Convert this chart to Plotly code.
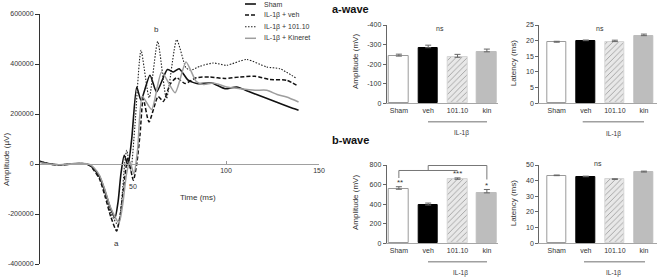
import plotly.graph_objects as go

W, H = 660, 279
FONT = "Liberation Sans, Arial, sans-serif"

# ---------------- ERG traces (time ms, amplitude uV) ----------------
t_sham = [0, 3, 6, 10, 14, 18, 22, 25, 27, 29, 32, 35, 38, 40.3, 42, 43.5, 45.3, 47.3, 49.3, 52, 54.3, 59.1, 62.7, 68.5, 71.7, 74.8, 79.7, 85, 92.3, 99.5, 105.7, 112.9, 120, 127, 134, 139]
a_sham = [10000, 4000, 0, -3000, -2000, 1000, 2000, 0, -6000, -20000, -50000, -110000, -180000, -215000, -150000, -40000, 35000, -5000, 100000, 308000, 255000, 355000, 288000, 378000, 368000, 381000, 335000, 321000, 324000, 301000, 308000, 288000, 268000, 248000, 228000, 215000]

t_veh = [0, 3, 6, 10, 14, 18, 22, 25, 27, 29, 32, 35, 38, 41.2, 43.2, 45.2, 47.2, 50.2, 52, 53.8, 55.5, 58.6, 63.5, 66.3, 70, 73.5, 78, 84, 91.4, 99.5, 107.5, 115.6, 123.6, 132.6, 138.9]
a_veh = [8000, 3000, -2000, -4000, -2000, 0, 2000, 0, -8000, -25000, -60000, -130000, -210000, -268000, -200000, -80000, 25000, -65000, 0, 120000, 262000, 168000, 270000, 250000, 320000, 345000, 322000, 345000, 348000, 342000, 348000, 351000, 338000, 335000, 311000]

t_101 = [0, 3, 6, 10, 14, 18, 22, 25, 27, 29, 32, 35, 38, 42, 44.2, 45.5, 46.6, 48.8, 51, 54.3, 58.7, 63.3, 68, 73.5, 78.5, 81, 86, 93.2, 100.4, 111.1, 121.9, 129, 138]
a_101 = [12000, 5000, 0, -4000, -1000, 2000, 1000, -1000, -8000, -22000, -55000, -120000, -195000, -245000, -120000, 0, 55000, -25000, 150000, 455000, 265000, 490000, 262000, 497000, 385000, 375000, 391000, 404000, 395000, 418000, 388000, 381000, 342000]

t_kin = [0, 3, 6, 10, 14, 18, 22, 25, 27, 29, 32, 35, 38, 42.5, 44.5, 46.5, 48.3, 50.5, 52.5, 55, 60, 65.4, 72.6, 78.5, 84, 88, 93.2, 100.4, 107.5, 115.6, 121.9, 127.5, 132.6, 139]
a_kin = [6000, 2000, -1000, -3000, -1000, 2000, 3000, 1000, -3000, -15000, -45000, -105000, -175000, -235000, -160000, -40000, 10000, -40000, 60000, 270000, 218000, 368000, 285000, 408000, 330000, 318000, 324000, 308000, 301000, 295000, 295000, 278000, 268000, 248000]

series_names = ["Sham", "IL-1β + veh", "IL-1β + 101.10", "IL-1β + Kineret"]
erg_ticks_y = [-400000, -200000, 0, 200000, 400000, 600000]
erg_ticks_x = [100, 150]

# ---------------- bar data ----------------
groups = ["Sham", "veh", "101.10", "kin"]
a_amp = [-241, -284, -235, -263]
a_amp_err = [10, 13, 15, 14]
a_lat = [19.5, 20.0, 19.7, 21.6]
a_lat_err = [0.3, 0.2, 0.45, 0.5]
b_amp = [552, 391, 654, 515]
b_amp_err = [26, 20, 14, 35]
b_lat = [43.2, 42.5, 40.8, 45.5]
b_lat_err = [0.4, 0.4, 0.4, 0.6]

a_amp_ticks = [0, -100, -200, -300, -400]
a_lat_ticks = [0, 5, 10, 15, 20, 25]
b_amp_ticks = [0, 200, 400, 600, 800]
b_lat_ticks = [0, 10, 20, 30, 40, 50]


def px(x):
    return x / W


def py(y):
    return 1 - y / H


styles = [
    dict(color="#111111", width=1.6, dash="solid"),
    dict(color="#111111", width=1.5, dash="4px,2px"),
    dict(color="#222222", width=1.1, dash="1.5px,1.5px"),
    dict(color="#9e9e9e", width=1.5, dash="solid"),
]

fig = go.Figure()
for (tt, aa), st, nm in zip([(t_sham, a_sham), (t_veh, a_veh), (t_101, a_101), (t_kin, a_kin)], styles, series_names):
    fig.add_trace(go.Scatter(x=tt, y=aa, mode="lines", name=nm, showlegend=False,
                             line=dict(color=st["color"], width=st["width"], dash=st["dash"],
                                       shape="spline", smoothing=0.6),
                             xaxis="x", yaxis="y"))

bar_fill = ["#ffffff", "#000000", "#e8e8e8", "#bdbdbd"]
bar_line = ["#9a9a9a", "#000000", "#d6d6d6", "#bdbdbd"]
patt = dict(shape=["", "", "/", ""], fgcolor="#d8d8d8", size=4, solidity=0.2, fillmode="overlay")


def add_bars(vals, errs, ax, negative=False):
    zeros = [0] * len(errs)
    fig.add_trace(go.Bar(
        x=list(range(len(groups))), y=vals, width=0.67,
        marker=dict(color=bar_fill, line=dict(color=bar_line, width=1), pattern=patt),
        error_y=dict(type="data", symmetric=False,
                     array=zeros if negative else errs,
                     arrayminus=errs if negative else zeros,
                     color="#666666", thickness=1, width=3),
        xaxis="x" + ax, yaxis="y" + ax, showlegend=False))


add_bars(a_amp, a_amp_err, "2", negative=True)
add_bars(a_lat, a_lat_err, "3")
add_bars(b_amp, b_amp_err, "4")
add_bars(b_lat, b_lat_err, "5")

tickfont = dict(family=FONT, size=7, color="#333333")

# ERG axes
erg_ydom = [py(264), py(14)]
zero_pos = erg_ydom[0] + 0.4 * (erg_ydom[1] - erg_ydom[0])
layout = dict(
    template="none",
    width=W, height=H, margin=dict(l=0, r=0, t=0, b=0, pad=0), autosize=False,
    paper_bgcolor="white", plot_bgcolor="white", bargap=0,
    font=dict(family=FONT, size=7, color="#333333"),
    xaxis=dict(domain=[px(40), px(319)], range=[0, 150], anchor="free", position=zero_pos,
               tickvals=erg_ticks_x, ticktext=[str(v) for v in erg_ticks_x],
               ticks="inside", ticklen=3, tickcolor="#999999",
               showline=True, linecolor="#a0a0a0", linewidth=1, showgrid=False, zeroline=False,
               tickfont=tickfont),
    yaxis=dict(domain=erg_ydom, range=[-400000, 600000], anchor="x",
               tickvals=erg_ticks_y, ticktext=[str(v) for v in erg_ticks_y],
               ticks="outside", ticklen=4, tickcolor="#333333",
               showline=True, linecolor="#333333", linewidth=1, showgrid=False, zeroline=False,
               tickfont=tickfont),
)

top_dom = [py(103.3), py(25)]
bot_dom = [py(243.3), py(165)]
amp_xdom = [px(386.7), px(498.3)]
lat_xdom = [px(539.3), px(656.7)]


def bar_axes(n, xdom, ydom, xrange, yrange, ticks):
    layout["xaxis" + n] = dict(domain=xdom, range=xrange, anchor="y" + n,
                               tickvals=list(range(len(groups))), ticktext=groups,
                               ticks="", showline=True, linecolor="#a6a6a6", linewidth=1,
                               showgrid=False, zeroline=False, tickfont=tickfont)
    layout["yaxis" + n] = dict(domain=ydom, range=yrange, anchor="x" + n,
                               tickvals=ticks, ticktext=[str(v) for v in ticks],
                               ticks="outside", ticklen=3, tickcolor="#666666",
                               showline=True, linecolor="#666666", linewidth=1,
                               showgrid=False, zeroline=False, tickfont=tickfont)


bar_axes("2", amp_xdom, top_dom, [-0.415, 3.39], [0, -400], a_amp_ticks)
bar_axes("3", lat_xdom, top_dom, [-0.6, 3.44], [0, 25], a_lat_ticks)
bar_axes("4", amp_xdom, bot_dom, [-0.415, 3.39], [0, 800], b_amp_ticks)
bar_axes("5", lat_xdom, bot_dom, [-0.6, 3.44], [0, 50], b_lat_ticks)
fig.update_layout(**layout)

ann = []
shapes = []


def txt(x, y, s, size=7, bold=False, angle=0, xanchor="center", color="#333333"):
    ann.append(dict(x=px(x), y=py(y), xref="paper", yref="paper", text=("<b>%s</b>" % s) if bold else s,
                    showarrow=False, xanchor=xanchor, yanchor="middle", textangle=angle,
                    font=dict(family=FONT, size=size, color=color)))


# ERG labels
ann.append(dict(x=50, y=-89000, xref="x", yref="y", text="50", showarrow=False,
                font=dict(family=FONT, size=7, color="#333333")))
ann.append(dict(x=40.9, y=-316000, xref="x", yref="y", text="a", showarrow=False,
                font=dict(family=FONT, size=8, color="#333333")))
ann.append(dict(x=62.4, y=537600, xref="x", yref="y", text="b", showarrow=False,
                font=dict(family=FONT, size=8, color="#333333")))
ann.append(dict(x=85, y=-133000, xref="x", yref="y", text="Time (ms)", showarrow=False,
                font=dict(family=FONT, size=8, color="#333333")))
txt(6, 160, "Amplitude (µV)", size=8, angle=-90)

# Legend (manual)
leg_rows = [4, 15, 26.7, 38.3]
for r, st, nm in zip(leg_rows, styles, series_names):
    shapes.append(dict(type="line", xref="paper", yref="paper", x0=px(245), x1=px(256), y0=py(r), y1=py(r),
                       line=dict(color=st["color"], width=st["width"], dash=st["dash"])))
    txt(262, r, nm, size=7, xanchor="left")

# Titles
txt(330, 9, "a-wave", size=11, bold=True, xanchor="left", color="#111111")
txt(330, 140, "b-wave", size=11, bold=True, xanchor="left", color="#111111")
txt(355, 62, "Amplitude (mV)", size=8, angle=-90)
txt(355, 203, "Amplitude (mV)", size=8, angle=-90)
txt(513.3, 63, "Latency (ms)", size=8, angle=-90)
txt(513.3, 203, "Latency (ms)", size=8, angle=-90)
txt(440, 28.5, "ns")
txt(600, 28.5, "ns")
txt(598.3, 163.5, "ns")

# IL-1β group brackets
for x0, x1, yl, xt, yt in [(428, 487, 121.7, 461.7, 133), (582.7, 644, 121.7, 613.3, 134),
                           (428, 487, 261.7, 460, 273), (584, 645, 261.7, 613.3, 273)]:
    shapes.append(dict(type="line", xref="paper", yref="paper", x0=px(x0), x1=px(x1), y0=py(yl), y1=py(yl),
                       line=dict(color="#a0a0a0", width=1.5)))
    txt(xt, yt, "IL-1β", size=6.5)

# significance brackets on b-wave amplitude
brk = "#777777"
shapes.append(dict(type="path", xref="x4", yref="paper",
                   path="M 0,%f L 0,%f L 2,%f" % (py(178), py(170.5), py(170.5)),
                   line=dict(color=brk, width=1)))
shapes.append(dict(type="path", xref="x4", yref="paper",
                   path="M 1,%f L 1,%f L 3,%f L 3,%f" % (py(170.5), py(165.5), py(165.5), py(179.5)),
                   line=dict(color=brk, width=1)))
txt(400, 182, "**", size=8)
txt(457.6, 173.5, "***", size=8)
txt(486.9, 185, "*", size=8)

fig.update_layout(annotations=ann, shapes=shapes)
fig.write_html("out.html", config={"displayModeBar": False},
               post_script="document.body.style.margin='0px';document.body.style.padding='0px';")
